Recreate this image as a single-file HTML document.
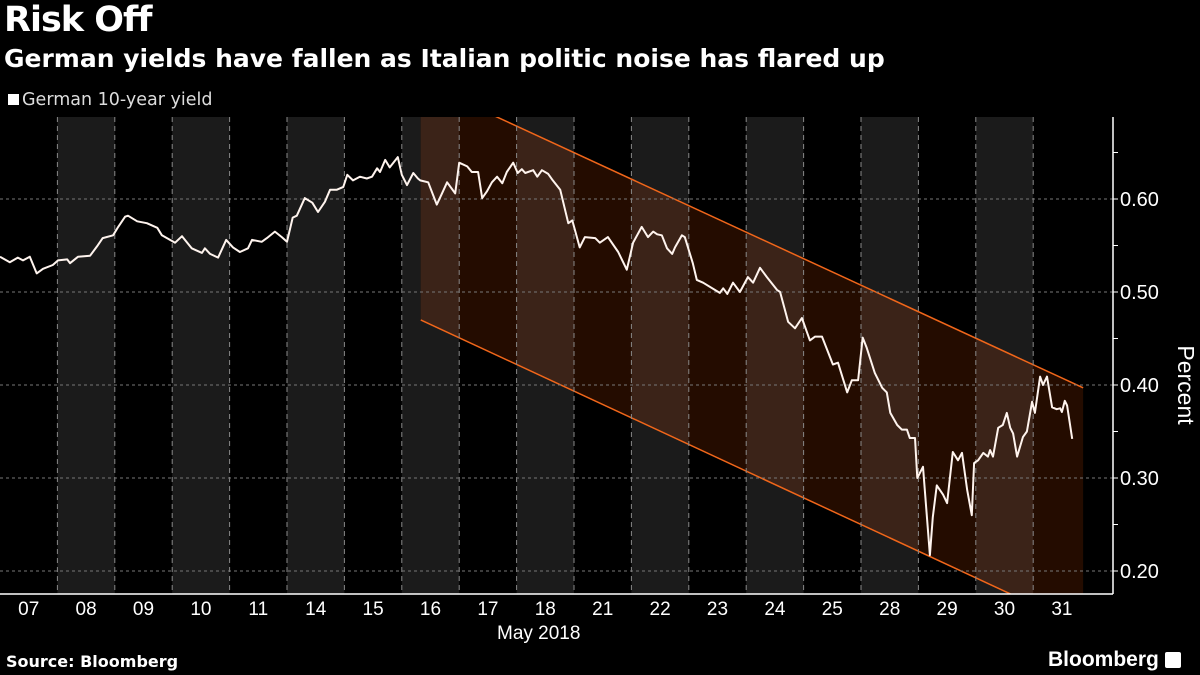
<!DOCTYPE html>
<html><head><meta charset="utf-8">
<style>
html,body{margin:0;padding:0;background:#000;}
body{width:1200px;height:675px;position:relative;overflow:hidden;font-family:"Liberation Sans",sans-serif;color:#fff;}
.t{position:absolute;white-space:nowrap;}
</style></head>
<body>
<div class="t" style="left:4px;top:0px;font-size:35px;font-weight:bold;font-family:'DejaVu Sans',sans-serif;letter-spacing:-1px;">Risk Off</div>
<div class="t" style="left:4px;top:44px;font-size:25px;font-weight:bold;font-family:'DejaVu Sans',sans-serif;">German yields have fallen as Italian politic noise has flared up</div>
<div class="t" style="left:8px;top:90px;font-size:17.5px;color:#ddd;font-family:'DejaVu Sans',sans-serif;"><span style="display:inline-block;width:11px;height:11px;background:#fff;margin-right:3px;vertical-align:0px;"></span>German 10-year yield</div>
<svg id="chart" width="1200" height="675" style="position:absolute;left:0;top:0;"></svg>
<div class="t" style="left:497px;top:623px;font-size:19px;">May 2018</div>
<div class="t" style="left:6px;top:652px;font-size:16px;font-weight:bold;font-family:'DejaVu Sans',sans-serif;">Source: Bloomberg</div>
<div class="t" style="left:1048px;top:648px;font-size:21px;font-weight:bold;">Bloomberg <span style="display:inline-block;width:16px;height:16px;background:#fff;border-radius:2px;vertical-align:-2px;"></span></div>
<script>
const dayLabels=["07","08","09","10","11","14","15","16","17","18","21","22","23","24","25","28","29","30","31"];
const yTicks=[0.2,0.3,0.4,0.5,0.6];
const times=[0,.17,.31,.40,.52,.64,.75,.92,1.01,1.17,1.22,1.36,1.57,1.69,1.79,1.97,2.06,2.18,2.23,2.39,2.56,2.74,2.82,3.05,3.17,3.34,3.52,3.57,3.66,3.80,3.94,4.06,4.18,4.32,4.39,4.56,4.65,4.79,4.91,5.00,5.10,5.17,5.31,5.44,5.54,5.66,5.75,5.87,5.98,6.05,6.15,6.27,6.39,6.48,6.57,6.62,6.71,6.79,6.93,7.00,7.09,7.20,7.28,7.32,7.46,7.61,7.70,7.79,7.93,8.00,8.14,8.22,8.33,8.40,8.48,8.57,8.66,8.75,8.83,8.94,9.02,9.09,9.15,9.29,9.36,9.44,9.55,9.63,9.76,9.90,9.97,10.10,10.19,10.37,10.45,10.59,10.77,10.92,11.03,11.18,11.29,11.38,11.45,11.53,11.62,11.71,11.76,11.88,11.93,12.07,12.14,12.25,12.54,12.60,12.67,12.77,12.89,13.03,13.12,13.24,13.36,13.54,13.59,13.73,13.85,13.97,14.11,14.20,14.32,14.51,14.60,14.76,14.84,14.95,15.03,15.10,15.24,15.37,15.45,15.51,15.63,15.71,15.80,15.85,15.94,15.98,16.08,16.20,16.25,16.32,16.43,16.50,16.60,16.69,16.76,16.85,16.93,16.97,17.04,17.13,17.21,17.25,17.30,17.39,17.47,17.54,17.60,17.65,17.72,17.82,17.89,17.98,18.03,18.12,18.17,18.24,18.33,18.41,18.47,18.50,18.55,18.59,18.68];
const yields=[0.538,0.532,0.537,0.534,0.538,0.520,0.525,0.529,0.534,0.535,0.531,0.538,0.539,0.549,0.558,0.561,0.570,0.581,0.582,0.576,0.574,0.569,0.561,0.553,0.560,0.547,0.542,0.547,0.541,0.537,0.556,0.548,0.543,0.547,0.556,0.554,0.558,0.565,0.559,0.554,0.580,0.582,0.601,0.596,0.586,0.597,0.610,0.610,0.613,0.626,0.620,0.624,0.622,0.624,0.633,0.629,0.642,0.634,0.645,0.626,0.615,0.628,0.622,0.620,0.618,0.594,0.606,0.618,0.606,0.639,0.635,0.629,0.629,0.601,0.608,0.618,0.624,0.617,0.629,0.639,0.628,0.632,0.628,0.631,0.624,0.631,0.627,0.620,0.610,0.574,0.577,0.548,0.559,0.558,0.553,0.559,0.543,0.524,0.553,0.570,0.559,0.565,0.562,0.561,0.547,0.541,0.548,0.561,0.559,0.531,0.513,0.510,0.499,0.504,0.498,0.510,0.500,0.516,0.510,0.526,0.516,0.502,0.500,0.468,0.461,0.472,0.448,0.452,0.452,0.422,0.424,0.392,0.405,0.405,0.451,0.440,0.413,0.397,0.392,0.370,0.357,0.352,0.352,0.343,0.343,0.300,0.312,0.217,0.258,0.292,0.282,0.273,0.328,0.319,0.327,0.287,0.260,0.316,0.319,0.327,0.323,0.330,0.323,0.354,0.357,0.370,0.354,0.348,0.323,0.344,0.350,0.382,0.370,0.409,0.400,0.409,0.376,0.374,0.375,0.371,0.383,0.378,0.342];
const channelTimes=[7.33,18.87];
const channelUpper=[0.726,0.397];
const channelLower=[0.470,0.139];

const NS="http://www.w3.org/2000/svg";
const svg=document.getElementById('chart');
const PT=117,PB=594,AX=1113,DW=57.4;
const X=t=>t*DW;
const Y=v=>292+(0.5-v)*930;
function mk(tag,attrs,parent){const e=document.createElementNS(NS,tag);for(const k in attrs)e.setAttribute(k,attrs[k]);(parent||svg).appendChild(e);return e;}
const defs=mk('defs',{});
const cp=mk('clipPath',{id:'plotclip'},defs);
mk('rect',{x:0,y:PT,width:AX,height:PB-PT},cp);
const chPts=[[X(channelTimes[0]),Y(channelUpper[0])],[X(channelTimes[1]),Y(channelUpper[1])],[X(channelTimes[1]),Y(channelLower[1])],[X(channelTimes[0]),Y(channelLower[0])]].map(p=>p.join(',')).join(' ');
const cc=mk('clipPath',{id:'chanclip'},defs);
mk('polygon',{points:chPts},cc);
const g=mk('g',{'clip-path':'url(#plotclip)'});
dayLabels.forEach((d,i)=>{
  if(i%2===1){
    const r=mk('rect',{x:X(i),y:PT,width:DW,height:PB-PT,fill:'#1b1b1b'},g);
    
    
  }
});
const chg=mk('g',{'clip-path':'url(#chanclip)'},g);
const cf=mk('rect',{x:0,y:0,width:1200,height:675,fill:'#240c00'},chg);


dayLabels.forEach((d,i)=>{
  if(i%2===1){
    const r=mk('rect',{x:X(i),y:PT,width:DW,height:PB-PT,fill:'#3b2318'},chg);
    
    
  }
});
const ul=mk('line',{x1:X(channelTimes[0]),y1:Y(channelUpper[0]),x2:X(channelTimes[1]),y2:Y(channelUpper[1]),stroke:'#f0661a','stroke-width':1.5},g);


const ll=mk('line',{x1:X(channelTimes[0]),y1:Y(channelLower[0]),x2:X(channelTimes[1]),y2:Y(channelLower[1]),stroke:'#f0661a','stroke-width':1.5},g);


for(let i=1;i<dayLabels.length;i++){
  const l=mk('line',{x1:X(i),y1:PT,x2:X(i),y2:PB,stroke:'#888','stroke-width':1,'stroke-dasharray':'5,4'},g);
  
  
}
yTicks.forEach(v=>{
  const l=mk('line',{x1:0,y1:Y(v),x2:AX,y2:Y(v),stroke:'#777','stroke-width':1,'stroke-dasharray':'3,3'},g);
  
  
});
const path=mk('path',{d:times.map((t,i)=>(i?'L':'M')+X(t).toFixed(1)+','+Y(yields[i]).toFixed(1)).join(''),fill:'none',stroke:'#fff4ee','stroke-width':2,'stroke-linejoin':'round'},g);


const xa=mk('line',{x1:0,y1:PB,x2:AX,y2:PB,stroke:'#fff','stroke-width':1.5});


const ya=mk('line',{x1:AX,y1:PT,x2:AX,y2:PB,stroke:'#fff','stroke-width':1.5});


for(let v=0.2;v<=0.68;v+=0.05){
  mk('line',{x1:AX,y1:Y(v),x2:AX+5,y2:Y(v),stroke:'#fff','stroke-width':1});
}
yTicks.forEach(v=>{
  const t=mk('text',{x:AX+7,y:Y(v)+7,fill:'#fff','font-size':20,'font-family':'Liberation Sans, sans-serif'});
  t.textContent=v.toFixed(2);
  
  
});
dayLabels.forEach((d,i)=>{
  const t=mk('text',{x:X(i)+DW/2,y:615,fill:'#fff','font-size':19,'text-anchor':'middle','font-family':'Liberation Sans, sans-serif'});
  t.textContent=d;
  
  
});
const yt=mk('text',{x:1178,y:385,fill:'#fff','font-size':23,'text-anchor':'middle',transform:'rotate(90 1178 385)','font-family':'Liberation Sans, sans-serif'});
yt.textContent='Percent';


</script>
</body></html>
